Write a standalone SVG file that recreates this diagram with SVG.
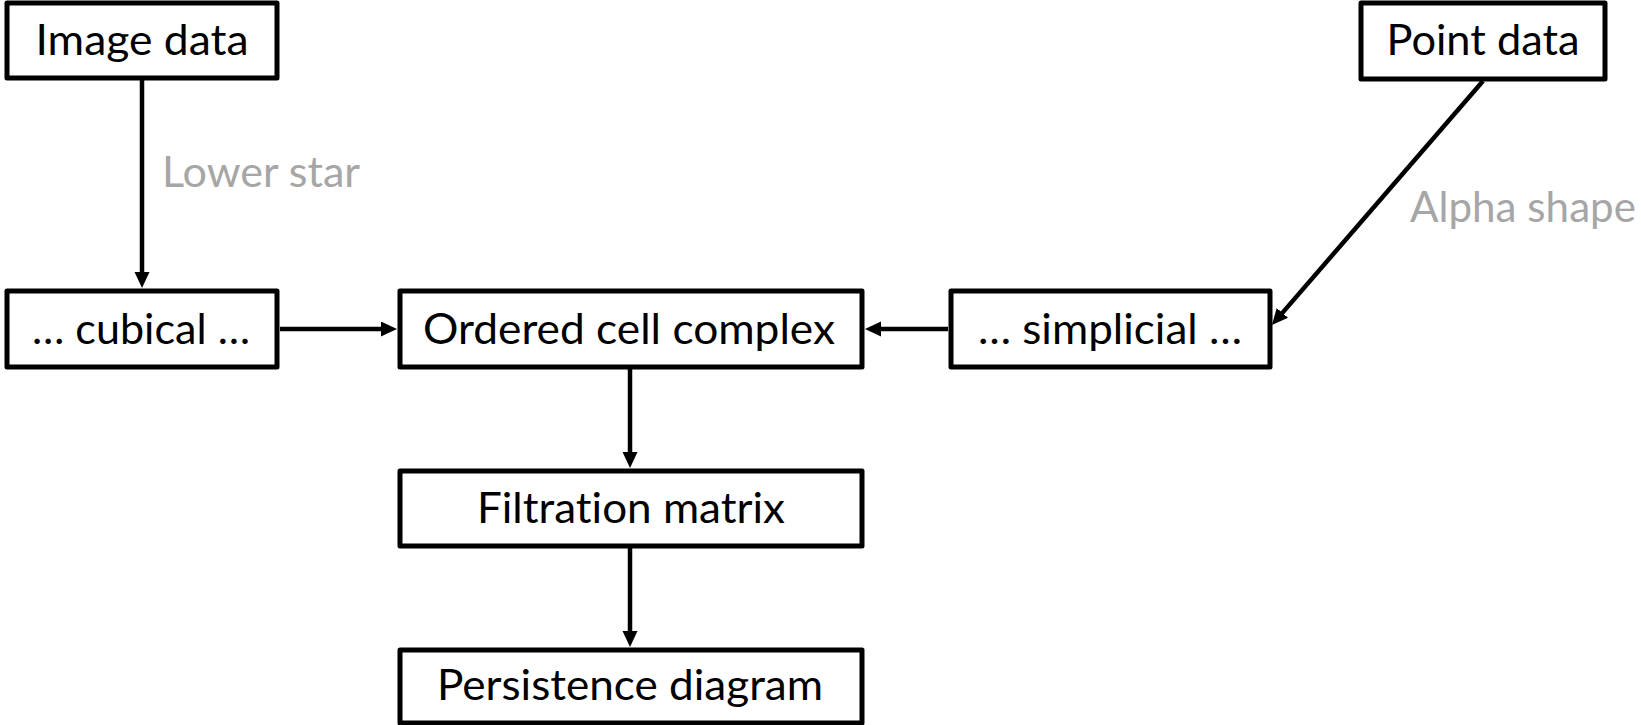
<svg xmlns="http://www.w3.org/2000/svg" width="1641" height="725" viewBox="0 0 1641 725">
  <style>
    .box { fill: #ffffff; stroke: #000000; stroke-width: 5; stroke-linejoin: round; }
    .label { font-family: Lato, "Liberation Sans", sans-serif; font-size: 43px; fill: #000000; text-anchor: middle; font-variant-ligatures: none; font-feature-settings: "liga" 0, "clig" 0, "dlig" 0; }
    .note { font-family: Lato, "Liberation Sans", sans-serif; font-size: 43px; fill: #a6a6a6; font-variant-ligatures: none; font-feature-settings: "liga" 0, "clig" 0, "dlig" 0; }
    .edge { fill: none; stroke: #000000; stroke-width: 4.5; }
  </style>
  <defs>
    <marker id="arrow" markerUnits="userSpaceOnUse" markerWidth="18" markerHeight="16" refX="4" refY="7.5" orient="auto" viewBox="0 0 18 16">
      <path d="M0,0 L16,7.5 L0,15 z" fill="#000000"/>
    </marker>
  </defs>

  <!-- connectors -->
  <g id="connectors">
    <line class="edge" x1="142" y1="80" x2="142" y2="276" marker-end="url(#arrow)"/>
    <line class="edge" x1="1483" y1="81" x2="1279.8" y2="315.9" marker-end="url(#arrow)"/>
    <line class="edge" x1="280" y1="329" x2="385" y2="329" marker-end="url(#arrow)"/>
    <line class="edge" x1="948" y1="329" x2="877" y2="329" marker-end="url(#arrow)"/>
    <line class="edge" x1="630" y1="369" x2="630" y2="456" marker-end="url(#arrow)"/>
    <line class="edge" x1="630" y1="548" x2="630" y2="635" marker-end="url(#arrow)"/>
  </g>

  <!-- edge notes -->
  <text class="note" x="162" y="187" textLength="198" lengthAdjust="spacingAndGlyphs">Lower star</text>
  <text class="note" x="1410" y="222" textLength="226" lengthAdjust="spacingAndGlyphs">Alpha shape</text>

  <!-- nodes -->
  <g id="image-data">
    <rect class="box" x="7" y="3" width="270" height="75"/>
    <text class="label" x="142" y="55" textLength="213" lengthAdjust="spacingAndGlyphs">Image data</text>
  </g>
  <g id="point-data">
    <rect class="box" x="1361" y="3" width="244" height="76"/>
    <text class="label" x="1483" y="55" textLength="193" lengthAdjust="spacingAndGlyphs">Point data</text>
  </g>
  <g id="cubical">
    <rect class="box" x="7" y="291" width="270" height="76"/>
    <text class="label" x="141" y="344" textLength="218" lengthAdjust="spacingAndGlyphs">… cubical …</text>
  </g>
  <g id="ordered-cell-complex">
    <rect class="box" x="400" y="291" width="462" height="76"/>
    <text class="label" x="629" y="344" textLength="412" lengthAdjust="spacingAndGlyphs">Ordered cell complex</text>
  </g>
  <g id="simplicial">
    <rect class="box" x="951" y="291" width="319" height="76"/>
    <text class="label" x="1110" y="344" textLength="264" lengthAdjust="spacingAndGlyphs">… simplicial …</text>
  </g>
  <g id="filtration-matrix">
    <rect class="box" x="400" y="471" width="462" height="75"/>
    <text class="label" x="631" y="523" textLength="308" lengthAdjust="spacingAndGlyphs">Filtration matrix</text>
  </g>
  <g id="persistence-diagram">
    <rect class="box" x="400" y="650" width="462" height="73"/>
    <text class="label" x="630" y="700" textLength="386" lengthAdjust="spacingAndGlyphs">Persistence diagram</text>
  </g>
</svg>
